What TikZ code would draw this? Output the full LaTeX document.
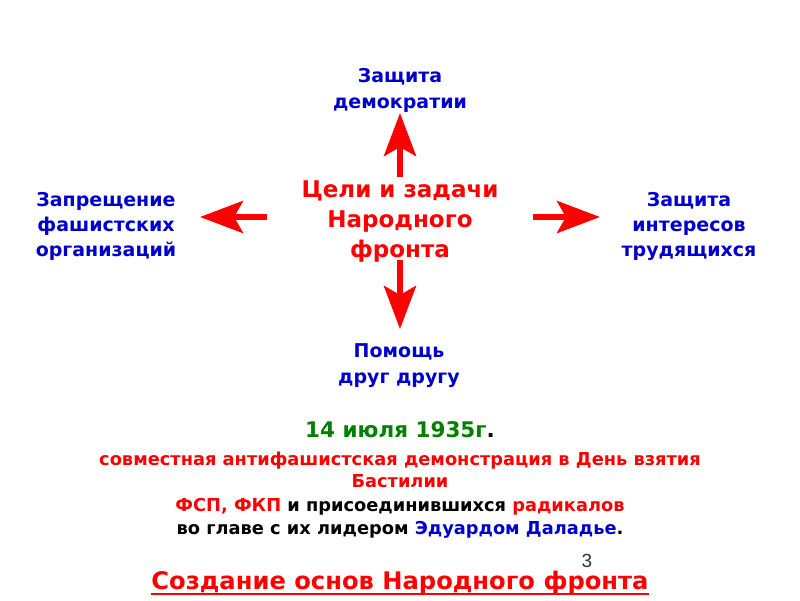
\documentclass[tikz,border=0pt]{standalone}
\usepackage{fontspec}
\setmainfont{DejaVu Sans}
\newfontfamily\numfont{Liberation Sans}
\usetikzlibrary{arrows.meta}
\definecolor{rred}{RGB}{255,0,0}
\definecolor{bblue}{RGB}{0,0,204}
\definecolor{ggreen}{RGB}{0,128,0}
\begin{document}
\begin{tikzpicture}[x=1pt,y=-1pt,
  goal/.style={text=bblue, font=\fontsize{19}{19}\selectfont\bfseries, inner sep=0pt, anchor=base},
  core/.style={text=rred, font=\fontsize{23}{23}\selectfont\bfseries, inner sep=0pt, anchor=base},
  info/.style={font=\fontsize{17.8}{17.8}\selectfont\bfseries, inner sep=0pt, anchor=base},
  bigarrow/.style={draw=rred, line width=6pt, -{Stealth[length=43pt,width=32pt,inset=9pt,fill=rred]}}
]
\path[use as bounding box, fill=white] (0,0) rectangle (800,600);

% centre
\node[core] (c1) at (400,197) {Цели и задачи};
\node[core] (c2) at (400,227) {Народного};
\node[core] (c3) at (400,257) {фронта};

% top
\node[goal] (t1) at (400,82) {Защита};
\node[goal] (t2) at (400,108) {демократии};
% left
\node[goal] (l1) at (106,206) {Запрещение};
\node[goal] (l2) at (106,231) {фашистских};
\node[goal] (l3) at (106,256) {организаций};
% right
\node[goal] (r1) at (689,206) {Защита};
\node[goal] (r2) at (689,231) {интересов};
\node[goal] (r3) at (689,256) {трудящихся};
% bottom
\node[goal] (b1) at (399,357) {Помощь};
\node[goal] (b2) at (399,383) {друг другу};

% arrows
\coordinate (uS) at (400,177); \coordinate (uE) at (400,113);
\coordinate (dS) at (400,260); \coordinate (dE) at (400,329);
\coordinate (lS) at (267,217); \coordinate (lE) at (200,217);
\coordinate (rS) at (533,217); \coordinate (rE) at (600,217);
\draw[bigarrow] (uS) -- (uE);
\draw[bigarrow] (dS) -- (dE);
\draw[bigarrow] (lS) -- (lE);
\draw[bigarrow] (rS) -- (rE);

% bottom text
\node[info, font=\fontsize{21.5}{21.5}\selectfont\bfseries] (d) at (400,437) {\textcolor{ggreen}{14 июля 1935г}.};
\node[info, text=rred] (i1) at (400,465) {совместная антифашистская демонстрация в День взятия};
\node[info, text=rred] (i2) at (400,487) {Бастилии};
\node[info] (i3) at (400,511) {\textcolor{rred}{ФСП, ФКП} и присоединившихся \textcolor{rred}{радикалов}};
\node[info] (i4) at (400,534) {во главе с их лидером \textcolor{bblue}{Эдуардом Даладье}.};

\node[inner sep=0pt, anchor=base, text=black!80, font=\fontsize{19}{19}\selectfont\numfont] (pg) at (587,567) {3};
\node[core, font=\fontsize{24.2}{24.2}\selectfont\bfseries] (title) at (400,589) {Создание основ Народного фронта};
\draw[rred, line width=2pt] ([yshift=-5pt]title.base west) -- ([yshift=-5pt]title.base east);
\end{tikzpicture}
\end{document}
